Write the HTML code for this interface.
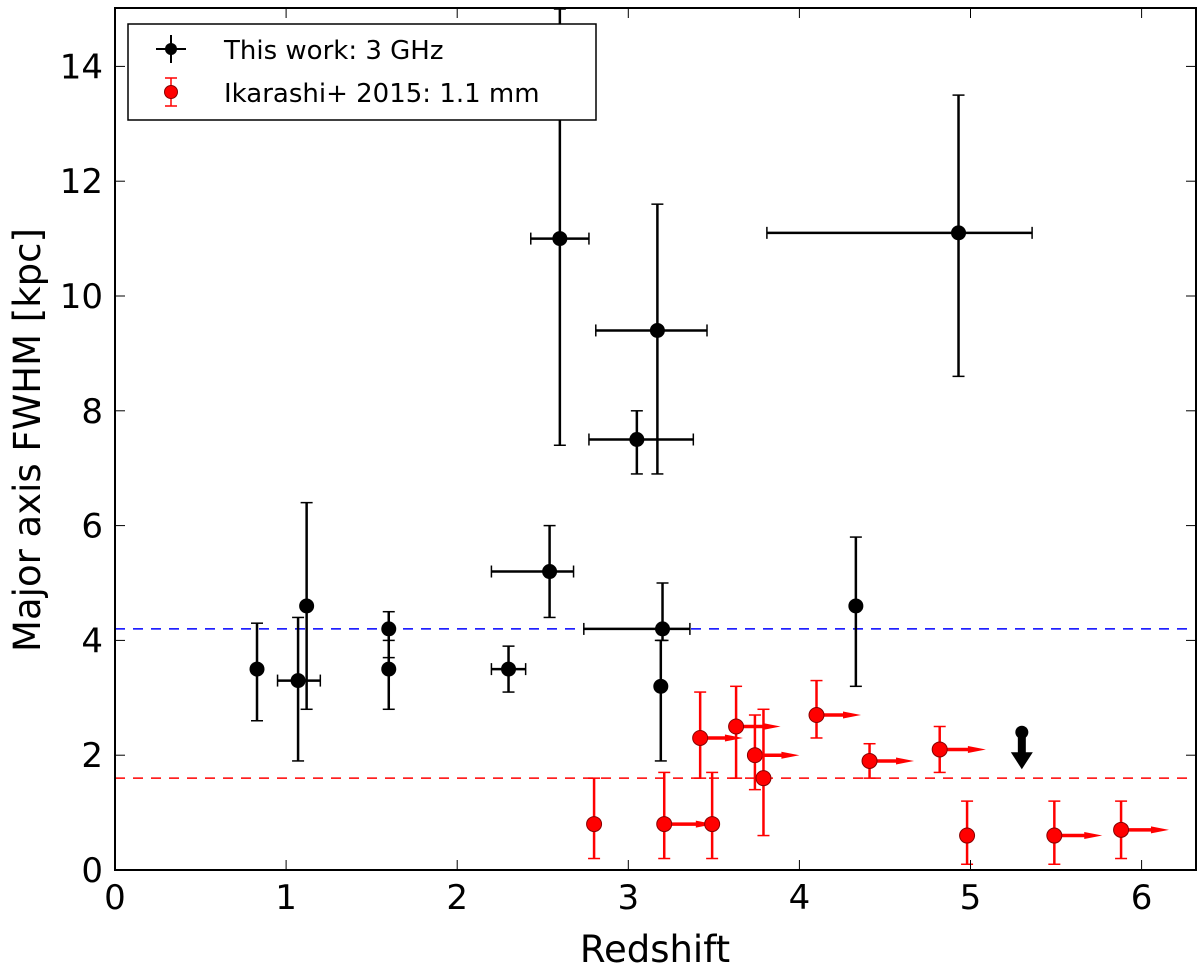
<!DOCTYPE html>
<html><head><meta charset="utf-8"><style>
body{margin:0;background:#fff;}
svg text{font-family:"DejaVu Sans","Liberation Sans",sans-serif;}
</style></head><body>
<svg id="c" width="1200" height="972" xmlns="http://www.w3.org/2000/svg"></svg>
<script>
const xTicks=[0,1,2,3,4,5,6];
const yTicks=[0,2,4,6,8,10,12,14];
// black: x, y, xlo, xhi, ylo, yhi
const bx=[0.83,1.07,1.12,1.6,1.6,2.3,2.54,2.6,3.05,3.17,3.2,3.19,4.33,4.93];
const by=[3.5,3.3,4.6,4.2,3.5,3.5,5.2,11.0,7.5,9.4,4.2,3.2,4.6,11.1];
const bxlo=[null,0.95,null,null,null,2.2,2.2,2.43,2.77,2.81,2.74,null,null,3.81];
const bxhi=[null,1.2,null,null,null,2.4,2.68,2.77,3.38,3.46,3.36,null,null,5.36];
const bylo=[2.6,1.9,2.8,3.7,2.8,3.1,4.4,7.4,6.9,6.9,4.0,1.9,3.2,8.6];
const byhi=[4.3,4.4,6.4,4.5,4.0,3.9,6.0,15,8.0,11.6,5.0,4.0,5.8,13.5];
// red
const rx=[2.8,3.21,3.49,3.42,3.63,3.74,3.79,4.1,4.41,4.82,4.98,5.49,5.88];
const ry=[0.8,0.8,0.8,2.3,2.5,2.0,1.6,2.7,1.9,2.1,0.6,0.6,0.7];
const rylo=[0.2,0.2,0.2,1.6,1.6,1.4,0.6,2.3,1.6,1.7,0.1,0.1,0.2];
const ryhi=[1.6,1.7,1.7,3.1,3.2,2.7,2.8,3.3,2.2,2.5,1.2,1.2,1.2];
const rarrow=[null,3.5,null,3.67,3.89,4.0,null,4.36,4.67,5.09,null,5.77,6.16];
const limitX=[5.3], limitY=[2.4];
const blueLine=4.2, redLine=1.6;

const L=115,R=1196,T=8,B=870;
const X=v=>L+v*171.1, Y=v=>B-v*57.4;
const svg=document.getElementById('c');
const NS='http://www.w3.org/2000/svg';
function el(t,a,p){const e=document.createElementNS(NS,t);for(const k in a)e.setAttribute(k,a[k]);(p||svg).appendChild(e);return e;}
const clip=el('clipPath',{id:'cl'});el('rect',{x:L,y:T,width:R-L,height:B-T},clip);
const g=el('g',{'clip-path':'url(#cl)'});

let d=el('line',{x1:L,x2:R,y1:Y(blueLine),y2:Y(blueLine),stroke:'#0000ff','stroke-width':1.5,'stroke-dasharray':'10,8'},g);

d=el('line',{x1:L,x2:R,y1:Y(redLine),y2:Y(redLine),stroke:'#ff0000','stroke-width':1.5,'stroke-dasharray':'10,8'},g);

function eb(x1,y1,x2,y2,c,w,cap,vert){
 el('line',{x1,y1,x2,y2,stroke:c,'stroke-width':w},g);
 if(vert){el('line',{x1:x1-cap,x2:x1+cap,y1:y1,y2:y1,stroke:c,'stroke-width':1.5},g);el('line',{x1:x1-cap,x2:x1+cap,y1:y2,y2:y2,stroke:c,'stroke-width':1.5},g);}
 else{el('line',{x1:x1,x2:x1,y1:y1-cap,y2:y1+cap,stroke:c,'stroke-width':1.5},g);el('line',{x1:x2,x2:x2,y1:y1-cap,y2:y1+cap,stroke:c,'stroke-width':1.5},g);}
}
for(let i=0;i<rx.length;i++){
 eb(X(rx[i]),Y(rylo[i]),X(rx[i]),Y(ryhi[i]),'#ff0000',2.5,6,true);
 if(rarrow[i]!=null){
  el('line',{x1:X(rx[i]),x2:X(rarrow[i])-12,y1:Y(ry[i]),y2:Y(ry[i]),stroke:'#ff0000','stroke-width':3.5},g);
  el('polygon',{points:`${X(rarrow[i])},${Y(ry[i])} ${X(rarrow[i])-18},${Y(ry[i])-3.5} ${X(rarrow[i])-18},${Y(ry[i])+3.5}`,fill:'#ff0000'},g);
 }
 const c=el('circle',{cx:X(rx[i]),cy:Y(ry[i]),r:7.5,fill:'#ff0000',stroke:'#800','stroke-width':1},g);
 
}
for(let i=0;i<bx.length;i++){
 eb(X(bx[i]),Y(bylo[i]),X(bx[i]),Y(byhi[i]),'#000',2.5,6,true);
 if(bxlo[i]!=null)eb(X(bxlo[i]),Y(by[i]),X(bxhi[i]),Y(by[i]),'#000',2.5,6,false);
 const c=el('circle',{cx:X(bx[i]),cy:Y(by[i]),r:7.5,fill:'#000'},g);
 
}
for(let i=0;i<limitX.length;i++){
 const x=X(limitX[i]),y=Y(limitY[i]);
 el('circle',{cx:x,cy:y,r:6.5,fill:'#000'},g);
 el('line',{x1:x,x2:x,y1:y,y2:y+22,stroke:'#000','stroke-width':8},g);
 const a=el('polygon',{points:`${x-11},${y+20} ${x+11},${y+20} ${x},${y+37}`,fill:'#000'},g);
 
}
const f=el('rect',{x:L,y:T,width:R-L,height:B-T,fill:'none',stroke:'#000','stroke-width':2});

xTicks.forEach(v=>{const x=X(v);
 el('line',{x1:x,x2:x,y1:B,y2:B-10,stroke:'#000','stroke-width':1});el('line',{x1:x,x2:x,y1:T,y2:T+10,stroke:'#000','stroke-width':1});
 const t=el('text',{x:x,y:B+39,'font-size':34,'text-anchor':'middle'});t.textContent=v;
 });
yTicks.forEach(v=>{const y=Y(v);
 el('line',{x1:L,x2:L+10,y1:y,y2:y,stroke:'#000','stroke-width':1});el('line',{x1:R,x2:R-10,y1:y,y2:y,stroke:'#000','stroke-width':1});
 const t=el('text',{x:L-12,y:y+12,'font-size':34,'text-anchor':'end'});t.textContent=v;
 });
let t=el('text',{x:655,y:962,'font-size':37,'text-anchor':'middle'});t.textContent='Redshift';

t=el('text',{x:0,y:0,'font-size':37,'text-anchor':'middle',transform:'translate(40,440) rotate(-90)'});t.textContent='Major axis FWHM [kpc]';

const lg=el('g',{});
el('rect',{x:128,y:24,width:468,height:96,fill:'#fff',stroke:'#000','stroke-width':1.5},lg);
el('line',{x1:156,x2:186,y1:49,y2:49,stroke:'#000','stroke-width':2},lg);
el('line',{x1:171,x2:171,y1:35,y2:63,stroke:'#000','stroke-width':2},lg);
el('circle',{cx:171,cy:49,r:6,fill:'#000'},lg);
el('line',{x1:171,x2:171,y1:78,y2:106,stroke:'#f00','stroke-width':1.5},lg);
el('line',{x1:165,x2:177,y1:78,y2:78,stroke:'#f00','stroke-width':1.5},lg);
el('line',{x1:165,x2:177,y1:106,y2:106,stroke:'#f00','stroke-width':1.5},lg);
el('circle',{cx:171,cy:92,r:6.5,fill:'#f00',stroke:'#800'},lg);
t=el('text',{x:224,y:59,'font-size':26},lg);t.textContent='This work: 3 GHz';

t=el('text',{x:224,y:102,'font-size':26},lg);t.textContent='Ikarashi+ 2015: 1.1 mm';

</script>
</body></html>
